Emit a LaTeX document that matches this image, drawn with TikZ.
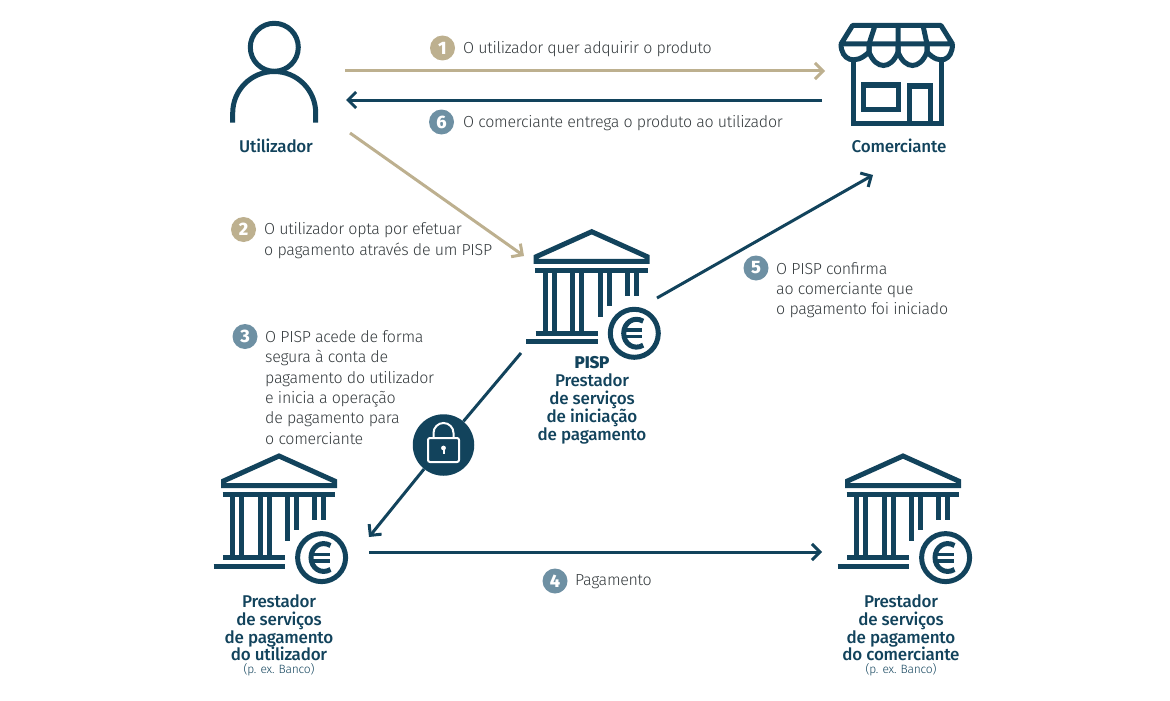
\documentclass[tikz,border=0pt]{standalone}
\usepackage{fontspec}
\setmainfont{Fira Sans Light}[LetterSpace=-1.8]
\newfontfamily\labelfont{Fira Sans Medium}[LetterSpace=-1.2, BoldFont=Fira Sans ExtraBold]
\newfontfamily\digitfont{Fira Sans ExtraBold}
\usetikzlibrary{arrows.meta}
\definecolor{navy}{HTML}{12435C}
\definecolor{sand}{HTML}{BDB08F}
\definecolor{slate}{HTML}{6E90A3}
\definecolor{grayText}{HTML}{33393C}
\tikzset{
    icon/.style={draw=navy, line width=5pt},
    arrowline/.style={line width=3pt, -{Straight Barb[length=8pt,width=16pt,line width=3pt]}},
    navyarrow/.style={arrowline, draw=navy},
    sandarrow/.style={arrowline, draw=sand},
    badge/.style={circle, minimum size=25pt, inner sep=0pt, text=white, font=\digitfont\fontsize{18}{18}\selectfont},
    stepnote/.style={anchor=west, align=left, inner sep=0pt, text=grayText, font=\fontsize{16}{20.3}\selectfont},
    actor/.style={align=center, inner sep=0pt, text=navy, font=\labelfont\fontsize{17}{17.6}\selectfont},
    smallnote/.style={inner sep=0pt, text=navy, font=\fontsize{12}{13}\selectfont},
    bank/.pic={
        \draw[icon, line join=miter] (-55.5,29.6) -- (-55.5,25) -- (0,0) -- (55.5,25) -- (55.5,29.6) -- cycle;
        \draw[icon] (-56.5,38.5) -- (56,38.5);
        \foreach \colx in {-46.5,-37.7,-19,-10} {
            \draw[icon] (\colx,38.5) -- (\colx,101.5);
        }
        \draw[icon] (8.3,38.5) -- (8.3,85);
        \draw[icon] (17.3,38.5) -- (17.3,74);
        \draw[icon] (35.3,38.5) -- (35.3,64);
        \draw[icon] (44.3,38.5) -- (44.3,64);
        \draw[icon] (-56,101.5) -- (6.3,101.5);
        \draw[icon] (-65.5,110) -- (6.3,110);
        % euro sign
        \draw[icon] (42.6,101.6) circle (24);
        \draw[icon] (51.5,89.5) .. controls (42,84) and (32,91) .. (32,101.6) .. controls (32,112) and (42,119) .. (51.5,113.5);
        \draw[navy, line width=3.4pt] (32,98.4) -- (50.5,98.4) (32,104.8) -- (50.5,104.8);
    }
}
\begin{document}
\begin{tikzpicture}[x=1pt, y=-1pt]
    \useasboundingbox (0,0) rectangle (1170,701);

    % user
    \draw[icon] (274.3,47.3) circle (24);
    \draw[icon] (232.7,122.5) -- (232.7,113) arc[start angle=180, end angle=360, radius=41.5] -- (315.7,122.5);
    \node[actor] (userLabel) at (276,145.5) {Utilizador};

    % shop
    \draw[icon, line join=round] (841,44) -- (852.5,25.5) -- (941,25.5) -- (952.5,44) -- cycle;
    \draw[icon] (875,25.5) -- (869,44) (898,25.5) -- (898,44) (923,25.5) -- (927,44);
    \draw[icon] (841,44) .. controls (841,60) and (855,66) .. (869,52) -- (869,44);
    \draw[icon] (869,44) -- (869,52) .. controls (876,70) and (891,70) .. (898,52) -- (898,44);
    \draw[icon] (898,44) -- (898,52) .. controls (905,70) and (920,70) .. (927,52) -- (927,44);
    \draw[icon] (927,44) -- (927,52) .. controls (940,66) and (952.5,60) .. (952.5,44);
    \draw[icon] (853,62) -- (853,123.3) -- (941.7,123.3) -- (941.7,62);
    \draw[icon] (863,85) rectangle (898,109);
    \draw[icon] (909,123.3) -- (909,86) -- (930,86) -- (930,123.3);
    \node[actor] (shopLabel) at (899,145.5) {Comerciante};

    % banks
    \pic at (591.7,231.7) {bank};
    \pic at (279,456) {bank};
    \pic at (903,456) {bank};

    \node[actor] (pispLabel) at (592,400.5) {\textbf{PISP}\\Prestador\\de serviços\\de iniciação\\de pagamento};
    \node[actor] (payerLabel) at (279,628) {Prestador\\de serviços\\de pagamento\\do utilizador};
    \node[smallnote] (payerNote) at (279,670) {(p. ex. Banco)};
    \node[actor] (payeeLabel) at (901,628) {Prestador\\de serviços\\de pagamento\\do comerciante};
    \node[smallnote] (payeeNote) at (901,670) {(p. ex. Banco)};

    % arrow ends
    \coordinate (buyStart) at (345,71);
    \coordinate (buyEnd) at (825,71);
    \coordinate (deliverStart) at (822,100);
    \coordinate (deliverEnd) at (346,100);
    \coordinate (optStart) at (350,133);
    \coordinate (optEnd) at (524,256);
    \coordinate (confirmStart) at (657,298);
    \coordinate (confirmEnd) at (873,175);
    \coordinate (accessStart) at (521,353);
    \coordinate (accessEnd) at (369,537);
    \coordinate (payStart) at (369,552);
    \coordinate (payEnd) at (822,552);

    \node[circle, fill=navy, minimum size=61.5pt, inner sep=0pt] (lock) at (443.5,445) {};

    \draw[sandarrow] (buyStart) -- (buyEnd);
    \draw[navyarrow] (deliverStart) -- (deliverEnd);
    \draw[sandarrow] (optStart) -- (optEnd);
    \draw[navyarrow] (confirmStart) -- (confirmEnd);
    \draw[navy, line width=3pt] (accessStart) -- (lock);
    \draw[navyarrow] (lock) -- (accessEnd);
    \draw[navyarrow] (payStart) -- (payEnd);

    % padlock
    \draw[white, line width=2pt, rounded corners=2pt] (428,438) rectangle (459,462);
    \draw[white, line width=2pt] (433.5,438) -- (433.5,433) arc[start angle=180, end angle=360, radius=10] -- (453.5,438);
    \fill[white] (443.5,448) circle (2.4);
    \draw[white, line width=2pt] (443.5,448) -- (443.5,454);

    % steps
    \node[badge, fill=sand] (one) at (442.5,48) {1};
    \node[stepnote] (oneText) at (463,49.5) {O utilizador quer adquirir o produto};
    \node[badge, fill=slate] (six) at (441.5,122) {6};
    \node[stepnote] (sixText) at (463,123.5) {O comerciante entrega o produto ao utilizador};
    \node[badge, fill=sand] (two) at (243.5,229.5) {2};
    \node[stepnote] (twoText) at (264,240.5) {O utilizador opta por efetuar\\o pagamento através de um PISP};
    \node[badge, fill=slate] (three) at (245,336.5) {3};
    \node[stepnote] (threeText) at (265,387.5) {O PISP acede de forma\\segura à conta de\\pagamento do utilizador\\e inicia a operação\\de pagamento para\\o comerciante};
    \node[badge, fill=slate] (five) at (756,268) {5};
    \node[stepnote] (fiveText) at (776,290) {O PISP confirma\\ao comerciante que\\o pagamento foi iniciado};
    \node[badge, fill=slate] (four) at (555,581) {4};
    \node[stepnote] (fourText) at (575,581.5) {Pagamento};
\end{tikzpicture}
\end{document}
